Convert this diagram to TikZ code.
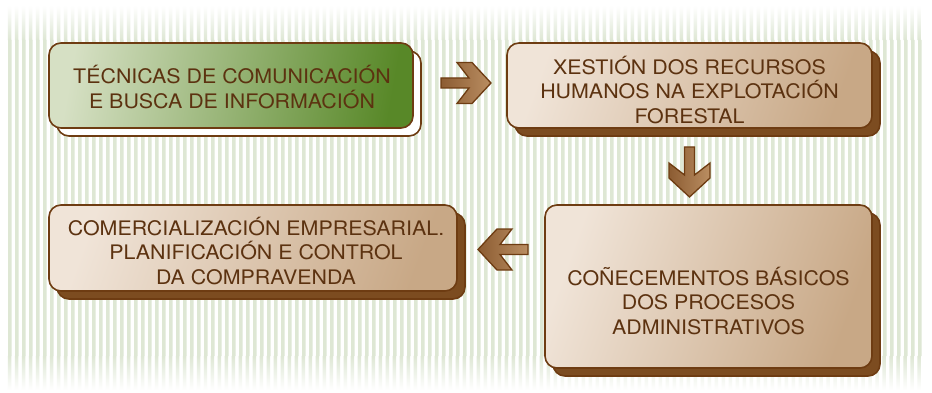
\documentclass[tikz,border=0pt]{standalone}
\usepackage{fontspec}
\setmainfont{TeX Gyre Heros}[FakeStretch=1.07]
\usetikzlibrary{fadings}
\definecolor{stripecol}{RGB}{222,231,212}
\definecolor{brownline}{RGB}{110,60,18}
\definecolor{shadowbrown}{RGB}{124,76,32}
\definecolor{boxlight}{RGB}{240,228,216}
\definecolor{boxdark}{RGB}{200,168,134}
\definecolor{greenlight}{RGB}{214,224,196}
\definecolor{greendark}{RGB}{88,136,40}
\definecolor{textbrown}{RGB}{92,50,16}
\definecolor{arrowdark}{RGB}{140,92,50}
\definecolor{arrowlight}{RGB}{186,142,98}
\tikzfading[name=fadeup, top color=transparent!100, bottom color=transparent!0]
\tikzfading[name=fadedown, top color=transparent!0, bottom color=transparent!100]
\tikzset{
  boxbase/.style={rounded corners=12pt, line width=1.6pt, draw=brownline, inner sep=0pt, outer sep=0pt},
  shadowbox/.style={boxbase, fill=shadowbrown},
  whiteshadow/.style={boxbase, fill=white},
  tanbox/.style={boxbase, left color=boxlight, right color=boxdark, shading angle=70},
  greenbox/.style={boxbase, left color=greenlight, right color=greendark, shading angle=80},
  boxtext/.style={text=textbrown, align=center, inner sep=0pt, font=\fontsize{20}{24.8}\selectfont},
  blockarrow/.pic={
    \draw[line width=1.3pt, draw=brownline, left color=arrowdark, right color=arrowlight, line join=miter]
      (0,-5) -- (28,-5) -- (16,-20.5) -- (31,-20.5) -- (50,0) -- (31,20.5) -- (16,20.5) -- (28,5) -- (0,5) -- cycle;
  }
}
\begin{document}
\begin{tikzpicture}[x=1pt,y=-1pt]
\useasboundingbox (0,0) rectangle (932,393);
\fill[white] (0,0) rectangle (932,393);
% striped background
\fill[stripecol] \foreach \i in {0,...,130} { ({8+7*\i},40) rectangle ++(3.5,316) };
\fill[stripecol, path fading=fadeup] \foreach \i in {0,...,130} { ({8+7*\i},6) rectangle ++(3.5,34.2) };
\fill[stripecol, path fading=fadedown] \foreach \i in {0,...,130} { ({8+7*\i},355.8) rectangle ++(3.5,34) };
% shadows
\node[whiteshadow, minimum width=364pt, minimum height=85pt] (s1) at (239,93.5) {};
\node[shadowbox, minimum width=365pt, minimum height=85pt] (s2) at (697.5,93.5) {};
\node[shadowbox, minimum width=327pt, minimum height=163pt] (s3) at (716.5,294.5) {};
\node[shadowbox, minimum width=408pt, minimum height=86pt] (s4) at (261,256) {};
% boxes
\node[greenbox, minimum width=364pt, minimum height=85pt] (b1) at (231,85.5) {};
\node[tanbox, minimum width=365pt, minimum height=85pt] (b2) at (689.5,85.5) {};
\node[tanbox, minimum width=327pt, minimum height=163pt] (b3) at (708.5,286.5) {};
\node[tanbox, minimum width=408pt, minimum height=86pt] (b4) at (253,248) {};
% texts
\node[boxtext] (t1) at ([shift={(1,1.5)}]b1.center) {TÉCNICAS DE COMUNICACIÓN\\E BUSCA DE INFORMACIÓN};
\node[boxtext] (t2) at ([shift={(0,4.5)}]b2.center) {XESTIÓN DOS RECURSOS\\HUMANOS NA EXPLOTACIÓN\\FORESTAL};
\node[boxtext] (t3) at ([shift={(0,14.5)}]b3.center) {COÑECEMENTOS BÁSICOS\\DOS PROCESOS\\ADMINISTRATIVOS};
\node[boxtext] (t4) at ([shift={(3,3)}]b4.center) {COMERCIALIZACIÓN EMPRESARIAL.\\PLANIFICACIÓN E CONTROL\\DA COMPRAVENDA};
% arrows
\coordinate (a1) at (441,83);
\coordinate (a2) at (689.5,147);
\coordinate (a3) at (528,249.5);
\pic at (a1) {blockarrow};
\pic[rotate=-90] at (a2) {blockarrow};
\pic[rotate=180] at (a3) {blockarrow};
\end{tikzpicture}
\end{document}
